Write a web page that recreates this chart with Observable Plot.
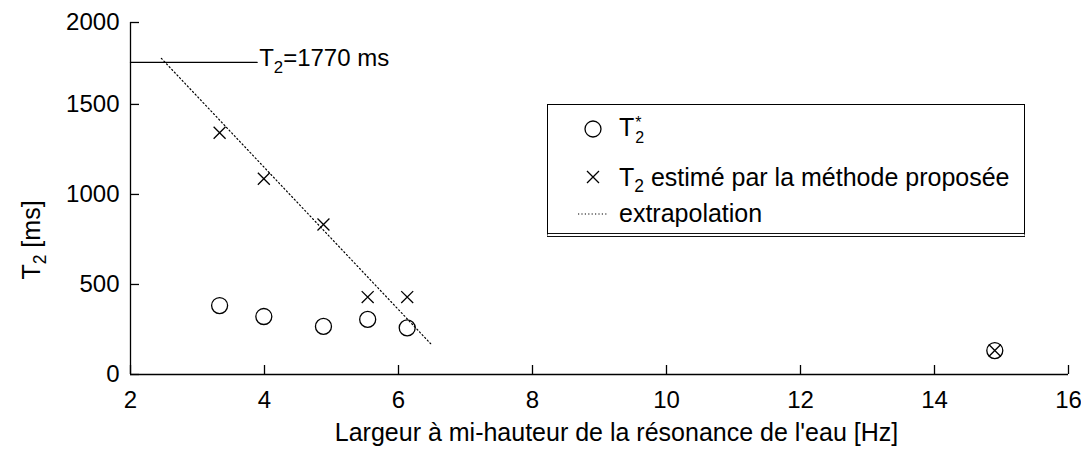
<!DOCTYPE html>
<html>
<head>
<meta charset="utf-8">
<script src="https://cdn.jsdelivr.net/npm/d3@7"></script>
<script src="https://cdn.jsdelivr.net/npm/@observablehq/plot@0.6"></script>
<style>
  html, body { margin: 0; padding: 0; background: #fff; }
  #wrap { position: relative; width: 1081px; height: 453px; font-family: "Liberation Sans", Arial, sans-serif; }
  #legend { position: absolute; left: 547px; top: 104px; height: 133px; box-sizing: border-box;
            border: 1.3px solid #000; border-bottom: 4px double #111; background: #fff;
            padding-right: 14px; font-size: 25px; color: #000; }
  #legend .row { display: flex; align-items: center; height: 30px; white-space: nowrap; }
  #legend svg { margin-left: 15px; flex: none; }
  .sub { font-size: 70%; position: relative; top: 0.35em; }
  .stack { display: inline-block; font-size: 64%; line-height: 15px; vertical-align: -7px; text-align: left; margin-left: 1px; }
  #ylabel { position: absolute; left: 31px; top: 240px; transform: translate(-50%, -50%) rotate(-90deg);
            font-size: 25px; white-space: nowrap; color: #000; line-height: 1; }
</style>
</head>
<body>
<div id="wrap"></div>
<script>
// ---- data ----
const xTicks = [2, 4, 6, 8, 10, 12, 14, 16];
const yTicks = [0, 500, 1000, 1500, 1955];          // top tick sits at the axis top
const yTickLabels = ["0", "500", "1000", "1500", "2000"];
const widthHz = [3.33, 3.99, 4.88, 5.54, 6.13, 14.9];
const t2Star  = [383, 322, 267, 306, 259, 133];
const t2Est   = [1343, 1087, 833, 430, 430, 133];
const extrapX = [2.46, 6.48];
const extrapY = [1756, 171];
const refX = [2, 3.89];
const refY = 1733;
const refLabel = "T_2=1770 ms";
const xLabel = "Largeur à mi-hauteur de la résonance de l'eau [Hz]";
const yLabel = ["T", "2", " [ms]"];
const legendLabels = ["T", "2 estimé par la méthode proposée", "extrapolation"];

const pts = widthHz.map((x, i) => ({x, star: t2Star[i], est: t2Est[i]}));
const extrap = extrapX.map((x, i) => ({x, y: extrapY[i]}));
const ref = refX.map(x => ({x, y: refY}));

const W = 1081, H = 453, mL = 130, mR = 13, mT = 22, mB = 79;
const plotW = W - mL - mR, plotH = H - mT - mB;
const ink = {stroke: "black", strokeWidth: 1.3};

const chart = Plot.plot({
  width: W, height: H,
  marginLeft: mL, marginRight: mR, marginTop: mT, marginBottom: mB,
  x: {domain: [2, 16], label: null},
  y: {domain: [0, 1955], label: null},
  style: {fontFamily: "'Liberation Sans', Arial, sans-serif", fontSize: "24px", color: "black", background: "white", overflow: "visible"},
  marks: [
    Plot.ruleX([2], ink),
    Plot.ruleY([0], ink),
    Plot.ruleX(xTicks, {x: d => d, insetTop: plotH - 9, ...ink}),
    Plot.ruleY(yTicks, {y: d => d, insetRight: plotW - 9, ...ink}),
    Plot.axisX({ticks: xTicks, tickSize: 0, tickPadding: 16, tickFormat: d => String(d), fontSize: 24}),
    Plot.axisY({ticks: yTicks, tickSize: 0, tickPadding: 11, tickFormat: d => yTickLabels[yTicks.indexOf(d)], fontSize: 24}),
    Plot.line(ref, {x: "x", y: "y", ...ink}),
    Plot.text([refLabel], {x: refX[1], y: refY, text: d => d, textAnchor: "start", dx: 2, dy: -4, fontSize: 24}),
    Plot.line(extrap, {x: "x", y: "y", stroke: "black", strokeWidth: 1.2, strokeDasharray: "1.2,2.6"}),
    Plot.dot(pts, {x: "x", y: "star", r: 8, fill: "none", ...ink}),
    Plot.dot(pts, {x: "x", y: "est", r: 5.5, symbol: "times", fill: "none", ...ink}),
    Plot.text([xLabel], {frameAnchor: "bottom", text: d => d, dx: 17, dy: 66, fontSize: 25})
  ]
});

// subscripts as real text tspans
d3.select(chart).selectAll("text").each(function() {
  const s = this.textContent;
  if (!s.includes("_2")) return;
  const [a, b] = s.split("_2");
  const el = d3.select(this);
  el.text("");
  el.append("tspan").text(a);
  el.append("tspan").attr("dy", 7).attr("font-size", "0.7em").text("2");
  el.append("tspan").attr("dy", -7).text(b);
});

const wrap = document.getElementById("wrap");
wrap.appendChild(chart);

// y axis label
const yl = document.createElement("div");
yl.id = "ylabel";
yl.innerHTML = `${yLabel[0]}<span class="sub">${yLabel[1]}</span>${yLabel[2]}`;
wrap.appendChild(yl);

// legend
const lg = document.createElement("div");
lg.id = "legend";
lg.innerHTML = `
  <div class="row" style="margin-top:9px">
    <svg width="56" height="30"><circle cx="30" cy="15" r="8" fill="none" stroke="black" stroke-width="1.3"/></svg>
    <span>${legendLabels[0]}<span class="stack">*<br>2</span></span>
  </div>
  <div class="row" style="margin-top:18px">
    <svg width="56" height="30"><path d="M24,9L36,21M36,9L24,21" stroke="black" stroke-width="1.3"/></svg>
    <span>T<span class="sub">${legendLabels[1].slice(0, 1)}</span>${legendLabels[1].slice(1)}</span>
  </div>
  <div class="row" style="margin-top:6px">
    <svg width="56" height="30"><line x1="15" y1="16" x2="45" y2="16" stroke="black" stroke-width="1.2" stroke-dasharray="1.2,2.2"/></svg>
    <span>${legendLabels[2]}</span>
  </div>`;
wrap.appendChild(lg);
</script>
</body>
</html>
